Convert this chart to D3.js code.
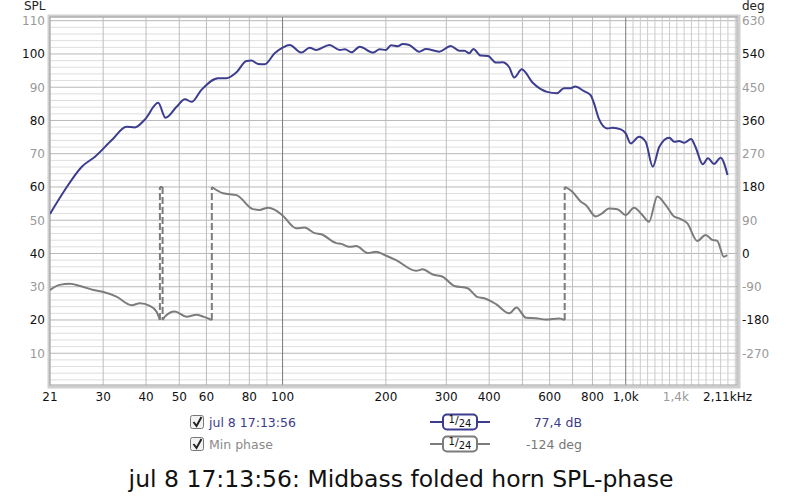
<!DOCTYPE html>
<html>
<head>
<meta charset="utf-8">
<script src="https://cdn.jsdelivr.net/npm/d3@7/dist/d3.min.js"></script>
<style>
  html, body { margin: 0; padding: 0; background: #fff; }
  svg { display: block; font-family: "DejaVu Sans", sans-serif; }
</style>
</head>
<body>
<svg id="chart" width="800" height="498"></svg>
<script>
// SPL trace (Hz, dB)
const splFreq = [21, 23.2, 26.0, 28.4, 31.8, 35.1, 37.1, 39.7, 43.4, 45.6, 49.1, 51.9, 54.3, 58.0,
  64.9, 68.6, 73.4, 78.5, 81.1, 84.8, 88.7, 94.8, 100, 104.9, 113.3, 119.9, 125.4, 137, 146.8,
  152, 158.8, 167.8, 183.4, 191.8, 200, 207, 216.6, 223.9, 234, 250, 261.7, 286.5, 309, 327,
  339, 350, 359.7, 378, 397, 418.6, 437, 457.6, 473, 498, 534, 590, 630, 661, 691, 712, 756,
  790, 808, 836, 884, 915, 968, 1000, 1034, 1093, 1143, 1199, 1253, 1340, 1385, 1430, 1480,
  1550, 1596, 1678, 1737, 1808, 1890, 1980];
const splDb = [51.9, 59.1, 66.1, 69.1, 74.1, 78.1, 77.9, 80.3, 85.3, 80.8, 84.1, 86.4, 85.6, 89.2,
  92.7, 92.7, 94.5, 97.9, 98.0, 97.0, 96.9, 100.2, 101.9, 102.7, 100.4, 101.9, 101.2, 102.7, 101.2,
  101.4, 100.5, 102.2, 100.4, 101.4, 101.2, 102.6, 102.3, 103.0, 102.7, 100.7, 101.5, 100.7, 102.4, 101.0,
  101.0, 100.2, 101.5, 99.5, 99.4, 97.4, 97.5, 96.0, 92.9, 95.4, 91.5, 88.6, 88.2, 89.7, 89.7, 90.2, 88.8,
  87.6, 85.2, 80.4, 77.6, 77.8, 77.3, 76.1, 73.1, 75.1, 73.6, 66.1, 72.1, 74.8, 73.6, 73.8, 73.3,
  74.4, 72.1, 66.8, 68.6, 66.9, 68.8, 63.6];

// Min phase trace (Hz, deg, wrapped to +/-180)
const phaseFreq = [21, 22.4, 24.0, 25.7, 28.1, 29.7, 32.8, 36.3, 38.4, 41.0, 42.9, 43.9, 43.9, 44.7, 44.7,
  45.4, 48.5, 52.5, 56.1, 58.7, 62.2, 62.2, 67.1, 73.4, 82.0, 85.7, 90.7, 95, 100, 109.7, 115.9,
  124, 129.6, 143.4, 148.3, 156.7, 163.9, 177.2, 187.3, 198.1, 214.2, 245, 256, 273.9, 292.8,
  316.7, 346, 370, 387, 418.8, 457.8, 480.7, 512, 547, 585, 639.7, 664, 664, 669, 699, 740,
  765, 818, 855, 894, 946, 1000, 1058, 1118, 1169, 1236, 1308, 1383, 1430, 1511, 1616, 1709,
  1787, 1848, 1932, 1976];
const phaseDeg = [-99, -85, -82, -88, -99, -103, -117, -140, -135, -142, -157, -180, 180, 180, -180,
  -171, -157, -171, -166, -171, -180, 180, 163, 158, 120, 118, 124, 118, 103, 68, 70,
  55, 52, 28, 26, 18, 20, 1, 5, -4, -18, -47, -43, -57, -63,
  -88, -94, -118, -121, -137, -162, -146, -174, -175, -179, -176, -180, 180, 179, 167, 140,
  131, 100, 109, 122, 120, 104, 124, 104, 86, 154, 131, 100, 95, 82, 34, 50,
  37, 34, -9, -4];

const xTicks = [21, 30, 40, 50, 60, 80, 100, 200, 300, 400, 600, 800, 1000, 1400, 2110];
const xTickLabels = ["21", "30", "40", "50", "60", "80", "100", "200", "300", "400", "600", "800", "1,0k", "1,4k", "2,11kHz"];
const splTicks = [10, 20, 30, 40, 50, 60, 70, 80, 90, 100, 110];
const degTicks = [-270, -180, -90, 0, 90, 180, 270, 360, 450, 540, 630];

const L = 50, R = 737, T = 17, B = 385;
const blue = "#3d3d90", grey = "#7c7c7c";

const svg = d3.select("#chart");
const x = d3.scaleLog().domain([21, 2110]).range([L, R]);
const y = d3.scaleLinear().domain([0, 110]).range([386.5, 20.7]);
const yDeg = d3.scaleLinear().domain([-360, 630]).range([386.5, 20.7]);

svg.append("defs").append("clipPath").attr("id", "clip")
  .append("rect").attr("x", L).attr("y", T).attr("width", R - L).attr("height", B - T);

// frame shadow
svg.append("rect").attr("x", L - 1).attr("y", T - 1).attr("width", R - L + 3).attr("height", B - T + 3)
  .attr("fill", "none").attr("stroke", "#cfcfcf").attr("stroke-width", 3);

const grid = svg.append("g").attr("clip-path", "url(#clip)");

// horizontal grid, every 2 dB
d3.range(0, 112, 2).forEach(v => {
  grid.append("line").attr("x1", L).attr("x2", R).attr("y1", y(v)).attr("y2", y(v))
    .attr("stroke", v % 10 === 0 ? "#b8b8b8" : "#dedede").attr("stroke-width", 1);
});

// vertical grid
const vLines = [];
[30, 40, 50, 60, 70, 80, 90, 100, 200, 300, 400, 500, 600, 700, 800, 900, 1000].forEach(f => vLines.push(f));
d3.range(1, 16).forEach(k => vLines.push(x.invert(x(1000) + k * 7.3)));
vLines.forEach(f => {
  const major = (f === 100 || f === 1000);
  grid.append("line").attr("x1", x(f)).attr("x2", x(f)).attr("y1", T).attr("y2", B)
    .attr("stroke", major ? "#7a7a7a" : (f > 1000 ? "#cccccc" : "#bdbdbd")).attr("stroke-width", 1);
});

svg.append("rect").attr("x", L).attr("y", T).attr("width", R - L).attr("height", B - T)
  .attr("fill", "none").attr("stroke", "#a0a0a0").attr("stroke-width", 1);

// axes labels
svg.append("text").attr("x", 24).attr("y", 10).attr("font-size", 12).attr("fill", "#222").text("SPL");
svg.append("text").attr("x", 742).attr("y", 10).attr("font-size", 12).attr("fill", "#222").text("deg");

splTicks.forEach((v, i) => {
  svg.append("text").attr("x", 45).attr("y", y(v)).attr("dy", "0.36em")
    .attr("text-anchor", "end").attr("font-size", 12)
    .attr("fill", (v / 10) % 2 === 0 ? "#111" : "#999").text(v);
});
degTicks.forEach(v => {
  svg.append("text").attr("x", 742).attr("y", yDeg(v)).attr("dy", "0.36em")
    .attr("font-size", 12)
    .attr("fill", (v / 90) % 2 === 0 ? "#111" : "#999").text(v);
});
xTicks.forEach((f, i) => {
  const last = i === xTicks.length - 1;
  svg.append("text").attr("x", last ? 752 : x(f)).attr("y", 401)
    .attr("text-anchor", last ? "end" : "middle").attr("font-size", 12)
    .attr("fill", f === 1400 ? "#999" : "#111").text(xTickLabels[i]);
});

const plot = svg.append("g").attr("clip-path", "url(#clip)");

// phase: solid pieces split at wraps, dashed vertical at each wrap
const phasePts = phaseFreq.map((f, i) => [f, phaseDeg[i]]);
const pieces = [[phasePts[0]]];
phasePts.slice(1).forEach((p, i) => {
  const prev = phasePts[i];
  if (Math.abs(p[1] - prev[1]) > 180) {
    plot.append("line").attr("x1", x(prev[0])).attr("x2", x(p[0]))
      .attr("y1", yDeg(prev[1])).attr("y2", yDeg(p[1]))
      .attr("stroke", grey).attr("stroke-width", 2).attr("stroke-dasharray", "7,3");
    pieces.push([p]);
  } else {
    pieces[pieces.length - 1].push(p);
  }
});
const phaseLine = d3.line().x(d => x(d[0])).y(d => yDeg(d[1])).curve(d3.curveMonotoneX);
pieces.forEach(pc => {
  plot.append("path").attr("d", phaseLine(pc)).attr("fill", "none")
    .attr("stroke", grey).attr("stroke-width", 2).attr("stroke-linejoin", "round");
});

const splLine = d3.line().x(d => x(d[0])).y(d => y(d[1])).curve(d3.curveMonotoneX);
plot.append("path").attr("d", splLine(splFreq.map((f, i) => [f, splDb[i]])))
  .attr("fill", "none").attr("stroke", blue).attr("stroke-width", 2).attr("stroke-linejoin", "round");

// legend
const legend = [
  { name: "jul 8 17:13:56", color: blue, textColor: "#3c3c8c", value: "77,4 dB", valColor: "#3c3c8c" },
  { name: "Min phase", color: grey, textColor: "#8a8a8a", value: "-124 deg", valColor: "#777" }
];
legend.forEach((d, i) => {
  const cy = 422 + i * 22;
  const g = svg.append("g");
  g.append("rect").attr("x", 190.5).attr("y", cy - 6.5).attr("width", 13).attr("height", 13).attr("rx", 2)
    .attr("fill", "#f2f2f2").attr("stroke", "#777");
  g.append("path").attr("d", `M${193.5},${cy} L${196.5},${cy + 4} L${201.5},${cy - 5}`)
    .attr("fill", "none").attr("stroke", "#222").attr("stroke-width", 2);
  g.append("text").attr("x", 209).attr("y", cy).attr("dy", "0.36em").attr("font-size", 12.5)
    .attr("fill", d.textColor).text(d.name);
  g.append("line").attr("x1", 430).attr("x2", 490).attr("y1", cy).attr("y2", cy)
    .attr("stroke", d.color).attr("stroke-width", 2);
  g.append("rect").attr("x", 443).attr("y", cy - 7.5).attr("width", 34).attr("height", 15).attr("rx", 4)
    .attr("fill", "#fff").attr("stroke", d.color).attr("stroke-width", 2);
  const t = g.append("text").attr("x", 460).attr("y", cy + 4).attr("text-anchor", "middle")
    .attr("font-size", 11).attr("fill", "#111");
  t.append("tspan").attr("dy", -3).attr("font-size", 10).text("1");
  t.append("tspan").attr("dy", 1).text("/");
  t.append("tspan").attr("dy", 3).attr("font-size", 10).text("24");
  g.append("text").attr("x", 582).attr("y", cy).attr("dy", "0.36em").attr("text-anchor", "end")
    .attr("font-size", 12.5).attr("fill", d.valColor).text(d.value);
});

svg.append("text").attr("x", 401).attr("y", 487).attr("text-anchor", "middle")
  .attr("font-size", 23.5).attr("fill", "#111").text("jul 8 17:13:56: Midbass folded horn SPL-phase");
</script>
</body>
</html>
